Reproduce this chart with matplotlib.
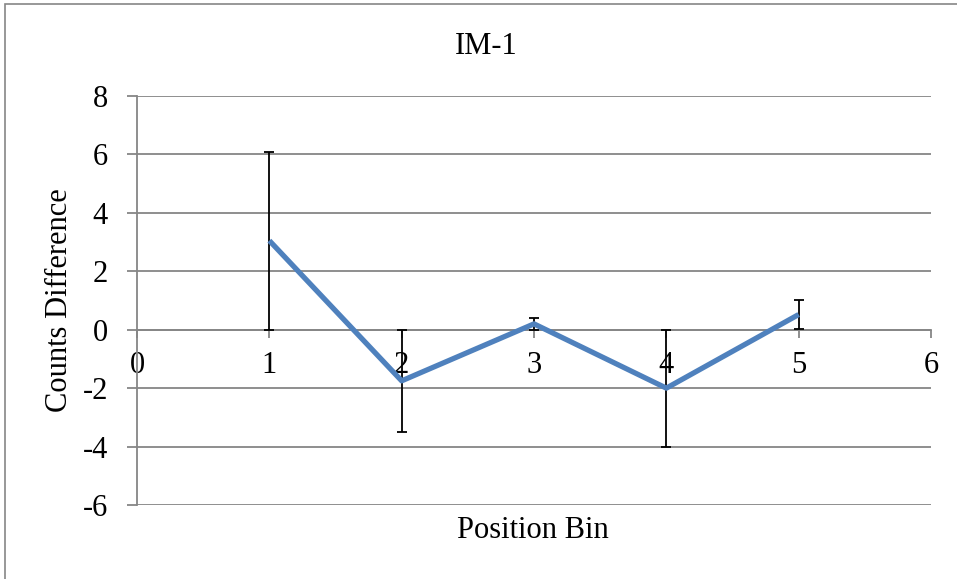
import matplotlib.pyplot as plt
from matplotlib.patches import Rectangle

# valores
bins = [1, 2, 3, 4, 5]
diferenca = [3.05, -1.75, 0.2, -2.0, 0.52]
erro = [3.05, 1.75, 0.2, 2.0, 0.5]
xticks = [0, 1, 2, 3, 4, 5, 6]
yticks = [-6, -4, -2, 0, 2, 4, 6, 8]

plt.rcParams['font.family'] = ['Liberation Serif', 'DejaVu Serif']
plt.rcParams['axes.unicode_minus'] = False
cinza = '#868686'

fig = plt.figure(figsize=(9.57, 5.79), dpi=100)
ax = fig.add_axes([137 / 957, 1 - 505 / 579, (931 - 137) / 957, (505 - 96) / 579])

# moldura externa do gráfico (cortada à direita e embaixo)
fig.patches.append(Rectangle((5 / 957, -0.1), 1.2, 1.1 - 4 / 579, transform=fig.transFigure,
                             fill=False, edgecolor=cinza, linewidth=1.2))

ax.errorbar(bins, diferenca, yerr=erro, fmt='none', ecolor='black', elinewidth=1.3,
            capsize=3.3, capthick=1.3, zorder=3)
ax.plot(bins, diferenca, color='#4F81BD', linewidth=3.8, solid_capstyle='butt', zorder=4)

ax.set_xlim(0, 6)
ax.set_ylim(-6, 8)
ax.set_xticks(xticks)
ax.set_yticks(yticks)
ax.yaxis.grid(True, color=cinza, linewidth=1.3)
ax.set_axisbelow(True)

for lado in ['top', 'right']:
    ax.spines[lado].set_visible(False)
ax.spines['bottom'].set_position(('data', 0))
ax.spines['bottom'].set_color(cinza)
ax.spines['left'].set_color(cinza)
ax.spines['bottom'].set_linewidth(1.3)
ax.spines['left'].set_linewidth(1.3)

ax.tick_params(axis='x', direction='out', length=6, width=1.3, color=cinza, labelsize=22, pad=9)
ax.tick_params(axis='y', direction='out', length=7, width=1.3, color=cinza, labelsize=22, pad=14)

fig.text(486 / 957, 1 - 47 / 579, 'IM-1', ha='center', va='center', fontsize=22)
fig.text(533 / 957, 1 - 530 / 579, 'Position Bin', ha='center', va='center', fontsize=22)
fig.text(60 / 957, 1 - 300 / 579, 'Counts Difference', ha='center', va='center',
         rotation=90, fontsize=22)

fig.savefig('out.png', dpi=100)
